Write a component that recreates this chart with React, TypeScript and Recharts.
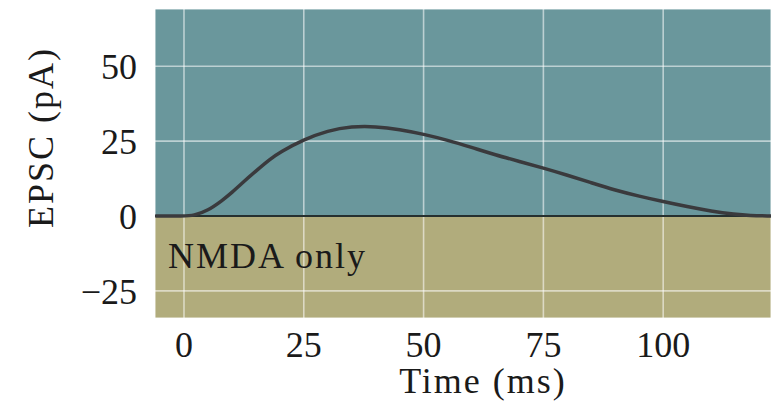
import { LineChart, Line, XAxis, YAxis, CartesianGrid, ReferenceLine, Label } from "recharts"

const timeMs = [-6, 0, 2, 5, 8, 10, 12, 15, 18, 20, 25, 30, 35, 40, 45, 50, 55, 60, 65, 70, 75, 80, 85, 90, 95, 100, 105, 110, 115, 118, 122.5]
const epscPa = [0, 0, 0.1, 1.8, 5.2, 7.8, 10.8, 15, 19, 21.3, 25.5, 28.5, 29.9, 29.9, 28.9, 27.3, 25.3, 22.9, 20.4, 18.2, 16, 13.6, 11.1, 8.6, 6.6, 4.8, 3.1, 1.6, 0.5, 0.1, 0]
const xTicks = [0, 25, 50, 75, 100]
const yTicks = [-25, 0, 25, 50]

const data = timeMs.map((t, i) => ({ t, v: epscPa[i] }))

const FONT = "Liberation Serif"
const TEAL = "#6a979c"
const OLIVE = "#b1ac7c"

const tickStyle = { fontSize: 36, fill: "#1a1a1a", fontFamily: FONT }

// rotated y label, placed from the axis box
const YLabel = ({ viewBox }: any) => {
  const x = viewBox.x + 53
  const y = viewBox.y + viewBox.height / 2 - 26
  return (
    <text x={x} y={y} transform={`rotate(-90, ${x}, ${y})`} textAnchor="middle"
      fontFamily={FONT} fontSize={36} fill="#1a1a1a" letterSpacing={2}>
      EPSC (pA)
    </text>
  )
}

const NmdaLabel = ({ viewBox }: any) => (
  <text x={viewBox.x + 13} y={viewBox.y + 52}
    fontFamily={FONT} fontSize={36} fill="#1a1a1a" letterSpacing={2}>
    NMDA only
  </text>
)

export default function App() {
  return (
    <div style={{ position: "absolute", left: 0, top: 0, background: "#fff", fontFamily: FONT }}>
      <LineChart width={771} height={403} data={data} margin={{ top: 9, right: 0, bottom: 0, left: 0 }}>
        <CartesianGrid
          stroke="#ffffff"
          strokeOpacity={0.55}
          strokeWidth={1.6}
          horizontalFill={[TEAL, TEAL, TEAL, OLIVE, OLIVE]}
          fillOpacity={1}
        />
        <XAxis
          dataKey="t"
          type="number"
          domain={[-6.05, 122.5]}
          ticks={xTicks}
          allowDataOverflow
          axisLine={false}
          tickLine={false}
          tickSize={0}
          tickMargin={13}
          height={85}
          tick={tickStyle}
        >
          <Label value="Time (ms)" position="insideBottom" offset={10} dx={20}
            fontFamily={FONT} fontSize={36} fill="#1a1a1a" letterSpacing={2} />
        </XAxis>
        <YAxis
          type="number"
          domain={[-34.07, 69.1]}
          ticks={yTicks}
          allowDataOverflow
          axisLine={false}
          tickLine={false}
          tickSize={0}
          tickMargin={18}
          width={155}
          tick={tickStyle}
          tickFormatter={(v: number) => (v < 0 ? `\u2212${Math.abs(v)}` : `${v}`)}
        >
          <Label content={<YLabel />} />
        </YAxis>
        <ReferenceLine y={0} stroke="#26302f" strokeWidth={2}>
          <Label content={<NmdaLabel />} />
        </ReferenceLine>
        <Line
          type="basis"
          dataKey="v"
          stroke="#3a3a3d"
          strokeWidth={3.5}
          dot={false}
          isAnimationActive={false}
        />
      </LineChart>
    </div>
  )
}
